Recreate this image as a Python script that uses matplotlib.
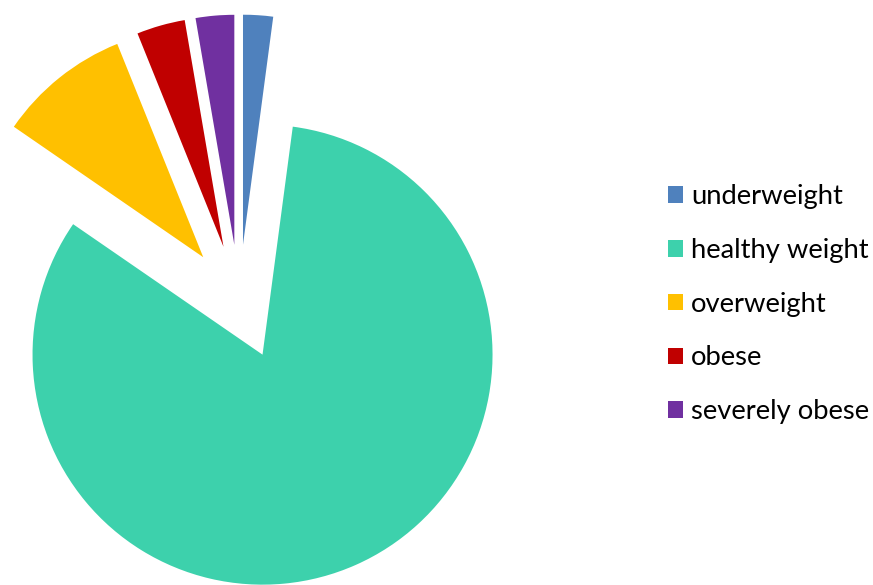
import matplotlib.pyplot as plt

# Input data (percent of total)
labels = ['underweight', 'healthy weight', 'overweight', 'obese', 'severely obese']
shares = [2.1, 82.5, 9.3, 3.4, 2.7]
colors = ['#4F81BD', '#3DD1AC', '#FFC000', '#C00000', '#7030A0']
explode = [0.25, 0.25, 0.25, 0.25, 0.25]

fig = plt.figure(figsize=(8.73, 5.85), dpi=100)
ax = fig.add_axes([0, 0, 1, 1])

wedges, _ = ax.pie(shares, colors=colors, explode=explode, startangle=90,
                   counterclock=False, radius=1.0)

# pie centre at pixel (239, 302), radius 230 px
cx, cy, r = 239.2, 302.1, 230.0
ax.set_xlim(-cx / r, (873 - cx) / r)
ax.set_ylim(-(585 - cy) / r, cy / r)
ax.axis('off')

ax.legend(wedges, labels, loc='center left', bbox_to_anchor=(0.765, 0.48),
          bbox_transform=fig.transFigure, frameon=False,
          prop={'family': 'Lato', 'size': 19.7},
          handlelength=0.55, handleheight=0.55, handletextpad=0.3,
          labelspacing=1.05, borderpad=0, borderaxespad=0)

plt.savefig('out.png', dpi=100)
